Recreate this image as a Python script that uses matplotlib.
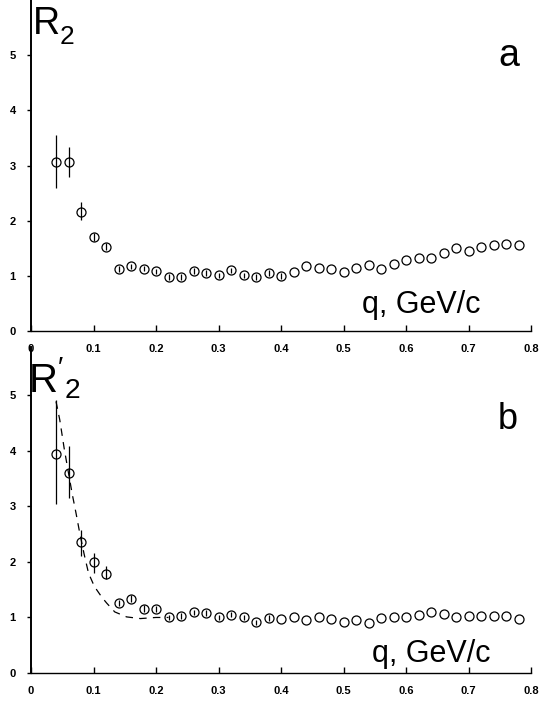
import numpy as np
import matplotlib
matplotlib.use("Agg")
import matplotlib.pyplot as plt

plt.rcParams['font.family'] = ['Liberation Sans', 'DejaVu Sans']
plt.rcParams['mathtext.fontset'] = 'custom'
plt.rcParams['mathtext.rm'] = 'Liberation Sans'

# q values, GeV/c
q = [0.04, 0.06, 0.08, 0.10, 0.12, 0.14, 0.16, 0.18, 0.20, 0.22,
     0.24, 0.26, 0.28, 0.30, 0.32, 0.34, 0.36, 0.38, 0.40, 0.42,
     0.44, 0.46, 0.48, 0.50, 0.52, 0.54, 0.56, 0.58, 0.60, 0.62,
     0.64, 0.66, 0.68, 0.70, 0.72, 0.74, 0.76, 0.78]

# panel a : R2
r2 = [3.07, 3.06, 2.16, 1.70, 1.53, 1.12, 1.17, 1.13, 1.08, 0.98,
      0.98, 1.09, 1.05, 1.01, 1.10, 1.01, 0.98, 1.05, 1.00, 1.07,
      1.18, 1.15, 1.12, 1.07, 1.14, 1.19, 1.12, 1.21, 1.29, 1.33,
      1.33, 1.41, 1.50, 1.45, 1.52, 1.56, 1.58, 1.55]
r2_lo = [0.47, 0.26, 0.14, 0.07, 0.06, 0.05, 0.05, 0.05, 0.05, 0.05,
         0.05, 0.05, 0.05, 0.05, 0.05, 0.05, 0.05, 0.05, 0.05, 0, 0,
         0, 0, 0, 0, 0, 0, 0, 0, 0, 0, 0, 0, 0, 0, 0, 0, 0]
r2_hi = [0.48, 0.27, 0.17, 0.07, 0.06, 0.05, 0.05, 0.05, 0.05, 0.05,
         0.05, 0.05, 0.05, 0.05, 0.05, 0.05, 0.05, 0.05, 0.05, 0, 0,
         0, 0, 0, 0, 0, 0, 0, 0, 0, 0, 0, 0, 0, 0, 0, 0, 0]

# panel b : R'2
r2p = [3.95, 3.61, 2.35, 1.99, 1.78, 1.26, 1.34, 1.16, 1.15, 1.00,
       1.03, 1.09, 1.08, 1.00, 1.05, 1.00, 0.91, 0.99, 0.98, 1.01,
       0.95, 1.01, 0.98, 0.92, 0.95, 0.90, 0.99, 1.00, 1.01, 1.05,
       1.09, 1.06, 1.01, 1.03, 1.03, 1.03, 1.03, 0.98]
r2p_lo = [0.91, 0.46, 0.25, 0.19, 0.09, 0.06, 0.06, 0.06, 0.06, 0.05,
          0.05, 0.05, 0.05, 0.05, 0.05, 0.05, 0.05, 0.05, 0, 0, 0, 0,
          0, 0, 0, 0, 0, 0, 0, 0, 0, 0, 0, 0, 0, 0, 0, 0]
r2p_hi = [0.97, 0.47, 0.23, 0.17, 0.14, 0.06, 0.06, 0.06, 0.06, 0.05,
          0.05, 0.05, 0.05, 0.05, 0.05, 0.05, 0.05, 0.05, 0, 0, 0, 0,
          0, 0, 0, 0, 0, 0, 0, 0, 0, 0, 0, 0, 0, 0, 0, 0]

# dashed fit curve in panel b
fit_q = [0.040, 0.046, 0.053, 0.060, 0.066, 0.072, 0.078, 0.085, 0.092,
         0.099, 0.105, 0.113, 0.121, 0.134, 0.153, 0.175, 0.200, 0.220]
fit_r = [4.89, 4.56, 4.05, 3.60, 3.22, 2.88, 2.52, 2.14, 1.80,
         1.62, 1.50, 1.37, 1.26, 1.10, 1.01, 0.98, 1.00, 1.00]

xticks = [0, 0.1, 0.2, 0.3, 0.4, 0.5, 0.6, 0.7, 0.8]
xticklabels = ['0', '0.1', '0.2', '0.3', '0.4', '0.5', '0.6', '0.7', '0.8']
yticks = [0, 1, 2, 3, 4, 5]
yticklabels = ['0', '1', '2', '3', '4', '5']

W, H = 547, 703
fig = plt.figure(figsize=(W / 100, H / 100), dpi=100)
ax1 = fig.add_axes([31 / W, 1 - 331 / H, 500 / W, 331 / H])
ax2 = fig.add_axes([31 / W, 1 - 673 / H, 500 / W, (673 - 347) / H])
ax2.patch.set_visible(False)   # let the upper panel's tick labels show


def style(ax, ytop):
    ax.set_xlim(0, 0.8)
    ax.set_ylim(0, ytop)
    for s in ['top', 'right']:
        ax.spines[s].set_visible(False)
    ax.spines['left'].set_linewidth(1.4)
    ax.spines['bottom'].set_linewidth(1.0)
    ax.set_xticks(xticks)
    ax.set_xticklabels(xticklabels, fontsize=8, fontweight='bold')
    ax.set_yticks(yticks)
    ax.set_yticklabels(yticklabels, fontsize=8, fontweight='bold')
    ax.tick_params(axis='x', direction='in', length=4, width=1, pad=9)
    ax.tick_params(axis='y', direction='out', length=3, width=1, pad=8)


mk = dict(fmt='o', ms=6.5, mfc='none', mec='black', mew=0.9,
          ecolor='black', elinewidth=0.9, capsize=0)

style(ax1, 6.0)
ax1.errorbar(q, r2, yerr=[r2_lo, r2_hi], **mk)
ax1.text(0.002, 5.38, r'$\mathregular{R^{\ }_2}$', fontsize=27,
         va='baseline', ha='left')
ax1.text(0.765, 4.98, 'a', fontsize=27, va='center', ha='center')
ax1.text(0.624, 0.47, 'q, GeV/c', fontsize=22,
         va='center', ha='center')

style(ax2, 5.87)
ax2.plot(fit_q, fit_r, color='black', lw=0.9, ls=(0, (6, 5)))
ax2.errorbar(q, r2p, yerr=[r2p_lo, r2p_hi], **mk)
ax2.text(-0.004, 5.05, r"$\mathregular{R'_2}$", fontsize=29,
         va='baseline', ha='left', clip_on=False)
ax2.text(0.763, 4.56, 'b', fontsize=26, va='center', ha='center')
ax2.text(0.641, 0.34, 'q, GeV/c', fontsize=22,
         va='center', ha='center')

fig.savefig('out.png', dpi=100)
